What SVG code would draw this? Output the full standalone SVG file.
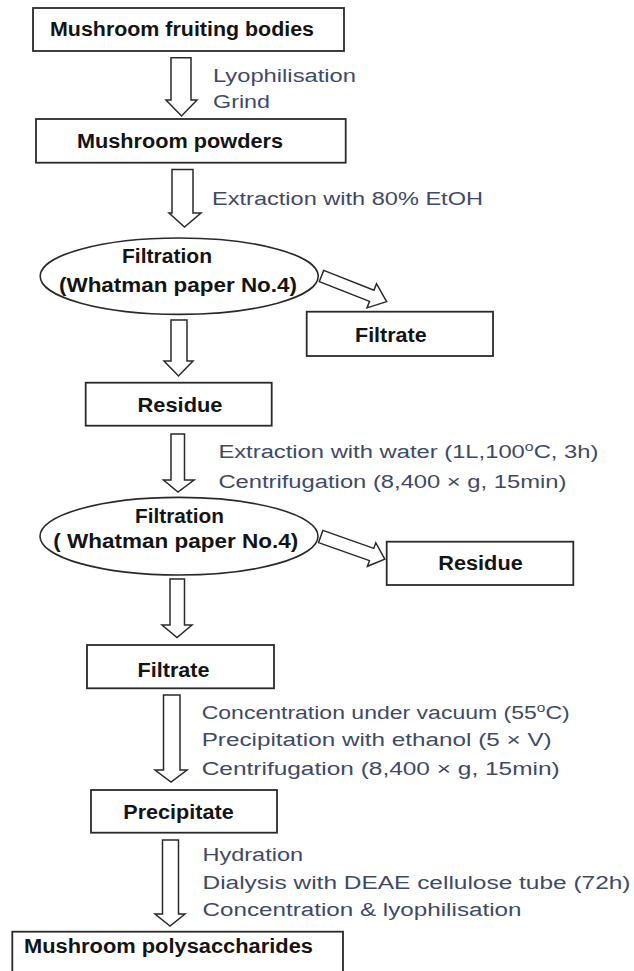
<svg xmlns="http://www.w3.org/2000/svg" width="634" height="971" viewBox="0 0 634 971">
<style>
.box{fill:#fff;stroke:#2a2a2a;stroke-width:1.8}
.ell{fill:#fff;stroke:#2a2a2a;stroke-width:1.6}
.arr{fill:#fff;stroke:#2a2a2a;stroke-width:1.5;stroke-linejoin:miter}
.b{font-family:"Liberation Sans",Arial,sans-serif;font-weight:bold;font-size:19.5px;fill:#141414}
.r{font-family:"Liberation Sans",Arial,sans-serif;font-size:18px;fill:#3f4a68}
</style>
<rect width="634" height="971" fill="#fff"/>
<g id="connectors">
<path class="arr" d="M171,57.7 L191,57.7 L191,100 L197,100 L181.5,116 L166,100 L171,100 Z"/>
<path class="arr" d="M172,169.5 L193,169.5 L193,213 L201,213 L184.5,227 L169,213 L172,213 Z"/>
<path class="arr" d="M171,320 L187,320 L187,361 L193,361 L178.5,376 L164,361 L171,361 Z"/>
<path class="arr" d="M171,434 L184.5,434 L184.5,480 L194,480 L178,492 L163.5,480 L171,480 Z"/>
<path class="arr" d="M170,579 L184.5,579 L184.5,625 L192,625 L177,637.5 L162,625 L170,625 Z"/>
<path class="arr" d="M163.5,695 L180,695 L180,770 L187,770 L171,782 L155,770 L163.5,770 Z"/>
<path class="arr" d="M162.5,840 L178.5,840 L178.5,914 L185,914 L170,926 L155,914 L162.5,914 Z"/>
<path class="arr" transform="translate(321.5,276) rotate(21.5)" d="M0,-6 L54,-6 L54,-13 L70,0 L54,13 L54,6 L0,6 Z"/>
<path class="arr" transform="translate(320.7,536.5) rotate(19.5)" d="M0,-6.5 L54,-6.5 L54,-12.5 L68,0 L54,12.5 L54,6.5 L0,6.5 Z"/>
</g>
<g id="n1"><rect class="box" x="33" y="8" width="311" height="43"/><text class="b" x="50" y="36" textLength="264" lengthAdjust="spacingAndGlyphs">Mushroom fruiting bodies</text></g>
<g id="l1"><text class="r" x="213" y="81.7" textLength="143" lengthAdjust="spacingAndGlyphs">Lyophilisation</text><text class="r" x="213" y="108.3" textLength="57" lengthAdjust="spacingAndGlyphs">Grind</text></g>
<g id="n2"><rect class="box" x="36" y="119" width="309.7" height="43.7"/><text class="b" x="77" y="147.5" textLength="206" lengthAdjust="spacingAndGlyphs">Mushroom powders</text></g>
<g id="l2"><text class="r" x="212" y="205" textLength="271" lengthAdjust="spacingAndGlyphs">Extraction with 80% EtOH</text></g>
<g id="n3"><ellipse class="ell" cx="179.2" cy="276.2" rx="139" ry="38.2"/><text class="b" x="122" y="262.7" textLength="90" lengthAdjust="spacingAndGlyphs">Filtration</text><text class="b" x="59" y="291.7" textLength="238" lengthAdjust="spacingAndGlyphs">(Whatman paper No.4)</text></g>
<g id="n4"><rect class="box" x="306.7" y="311.7" width="186.3" height="44.3"/><text class="b" x="355" y="341.7" textLength="71.7" lengthAdjust="spacingAndGlyphs">Filtrate</text></g>
<g id="n5"><rect class="box" x="85.7" y="382.7" width="186" height="43"/><text class="b" x="137.5" y="411.7" textLength="85" lengthAdjust="spacingAndGlyphs">Residue</text></g>
<g id="l3"><text class="r" x="218.4" y="458.3" textLength="380" lengthAdjust="spacingAndGlyphs">Extraction with water (1L,100<tspan font-size="12" dy="-7">o</tspan><tspan dy="7">C, 3h)</tspan></text><text class="r" x="218.4" y="488.3" textLength="348" lengthAdjust="spacingAndGlyphs">Centrifugation (8,400 × g, 15min)</text></g>
<g id="n6"><ellipse class="ell" cx="179" cy="536.2" rx="139" ry="38.8"/><text class="b" x="135" y="522.7" textLength="89" lengthAdjust="spacingAndGlyphs">Filtration</text><text class="b" x="53.3" y="548.3" textLength="245" lengthAdjust="spacingAndGlyphs">( Whatman paper No.4)</text></g>
<g id="n7"><rect class="box" x="386.7" y="541.7" width="186.6" height="43.3"/><text class="b" x="438.3" y="570" textLength="84.4" lengthAdjust="spacingAndGlyphs">Residue</text></g>
<g id="n8"><rect class="box" x="87" y="645" width="187" height="43.3"/><text class="b" x="137.5" y="676.7" textLength="72" lengthAdjust="spacingAndGlyphs">Filtrate</text></g>
<g id="l4"><text class="r" x="201.7" y="718.5" textLength="368" lengthAdjust="spacingAndGlyphs">Concentration under vacuum (55<tspan font-size="12" dy="-7">o</tspan><tspan dy="7">C)</tspan></text><text class="r" x="201.7" y="746" textLength="350" lengthAdjust="spacingAndGlyphs">Precipitation with ethanol (5 × V)</text><text class="r" x="201.7" y="774.5" textLength="358" lengthAdjust="spacingAndGlyphs">Centrifugation (8,400 × g, 15min)</text></g>
<g id="n9"><rect class="box" x="91" y="790" width="186" height="42.7"/><text class="b" x="123.3" y="819.3" textLength="110.4" lengthAdjust="spacingAndGlyphs">Precipitate</text></g>
<g id="l5"><text class="r" x="202.5" y="861" textLength="100.6" lengthAdjust="spacingAndGlyphs">Hydration</text><text class="r" x="202.5" y="888.5" textLength="428" lengthAdjust="spacingAndGlyphs">Dialysis with DEAE cellulose tube (72h)</text><text class="r" x="202.5" y="915.5" textLength="319" lengthAdjust="spacingAndGlyphs">Concentration &amp; lyophilisation</text></g>
<g id="n10"><rect class="box" x="12.3" y="931.7" width="330.7" height="60"/><text class="b" x="24" y="953" textLength="289" lengthAdjust="spacingAndGlyphs">Mushroom polysaccharides</text></g>
</svg>
